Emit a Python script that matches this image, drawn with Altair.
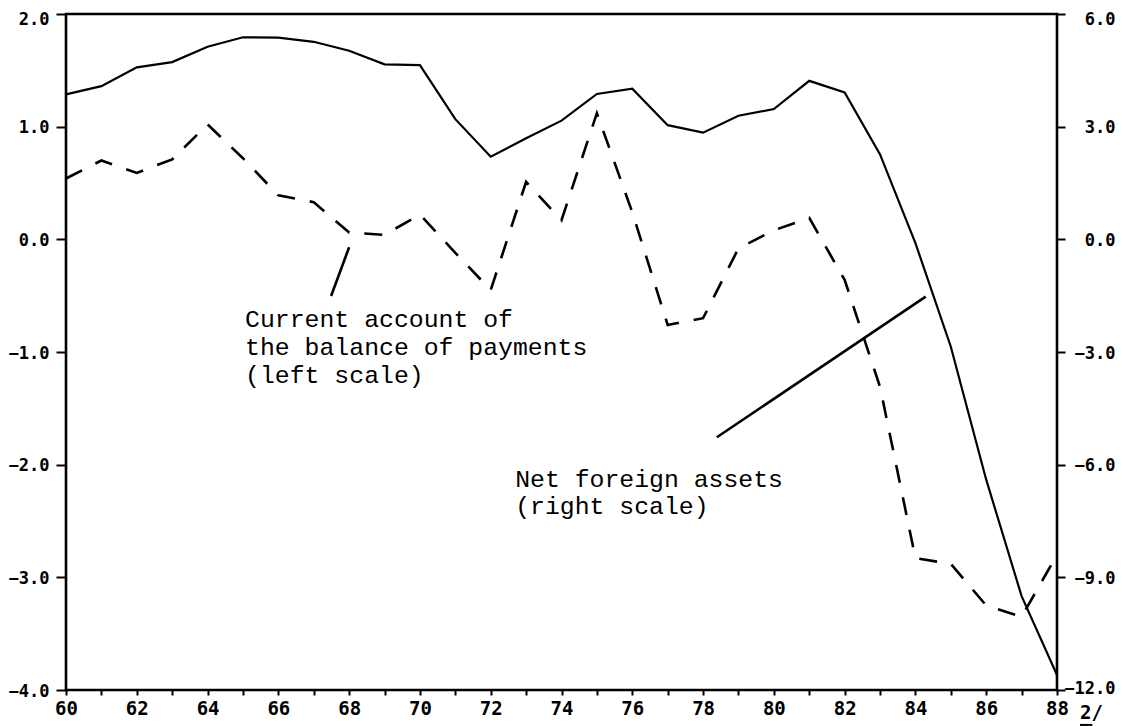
import altair as alt
import pandas as pd

# ---- data ----
years = list(range(60, 89))
current_account = [0.54, 0.70, 0.59, 0.71, 1.02, 0.72, 0.39, 0.33, 0.06, 0.04,
                   0.22, -0.12, -0.45, 0.51, 0.17, 1.12, 0.24, -0.76, -0.70, -0.08,
                   0.08, 0.19, -0.36, -1.31, -2.83, -2.88, -3.25, -3.35, -2.80]
net_foreign_assets = [3.86, 4.08, 4.58, 4.72, 5.13, 5.38, 5.37, 5.26, 5.02, 4.66,
                      4.64, 3.20, 2.20, 2.69, 3.16, 3.87, 4.01, 3.04, 2.84, 3.29,
                      3.47, 4.22, 3.91, 2.26, -0.10, -2.86, -6.40, -9.50, -11.60]
left_ticks = [-4, -3, -2, -1, 0, 1, 2]
right_ticks = [-12, -9, -6, -3, 0, 3, 6]

label_lines = ["Current account of", "the balance of payments", "(left scale)",
               "Net foreign assets", "(right scale)"]
label_x = [65.06, 65.06, 65.06, 72.69, 72.69]
label_y = [-0.78, -1.03, -1.275, -2.20, -2.44]

pointer_x1 = [68.0, 78.39]
pointer_y1 = [-0.07, -1.757]
pointer_x2 = [67.49, 84.29]
pointer_y2 = [-0.503, -0.509]

note_text = ["2/"]
note_x = [88.65]
note_y = [-4.255]
underline_x1 = [88.65]
underline_x2 = [89.0]
underline_y = [-4.31]

# ---- tables ----
series = pd.DataFrame({"year": years, "ca": current_account, "nfa": net_foreign_assets})
labels = pd.DataFrame({"text": label_lines, "x": label_x, "y": label_y})
pointers = pd.DataFrame({"x1": pointer_x1, "y1": pointer_y1, "x2": pointer_x2, "y2": pointer_y2})
notes = pd.DataFrame({"text": note_text, "x": note_x, "y": note_y})
underline = pd.DataFrame({"x1": underline_x1, "x2": underline_x2, "y": underline_y})

xscale = alt.Scale(domain=[60, 88], nice=False, zero=False)
lscale = alt.Scale(domain=[-4, 2], nice=False, zero=False)
rscale = alt.Scale(domain=[-12, 6], nice=False, zero=False)

x_axis = alt.Axis(values=years, labelExpr="datum.value % 2 == 0 ? datum.value : ''",
                  tickSize=5, tickWidth=2, tickColor="black", labelPadding=4,
                  labelFont="DejaVu Sans Mono", labelFontWeight="bold", labelFontSize=19,
                  labelColor="black", domain=False, grid=False, title=None,
                  labelFlush=False, labelOverlap=False)

top_left = "datum.value == %d" % max(left_ticks)
top_right = "datum.value == %d" % max(right_ticks)
bottom_right = "datum.value == %d" % min(right_ticks)

left_axis = alt.Axis(values=left_ticks, format=".1f", orient="left", tickSize=10, tickWidth=2,
                     tickColor="black", labelPadding=7, labelFont="DejaVu Sans Mono",
                     labelFontWeight="bold", labelFontSize=17, labelColor="black",
                     labelBaseline={"condition": {"test": top_left, "value": "top"}, "value": "middle"},
                     labelOffset={"condition": {"test": top_left, "value": -3}, "value": 1},
                     domain=False, grid=False, title=None, labelFlush=False, labelOverlap=False)
right_axis = alt.Axis(values=right_ticks, format=".1f", orient="right", tickSize=8, tickWidth=2,
                      tickColor="black", labelPadding=50, labelAlign="right",
                      labelFont="DejaVu Sans Mono", labelFontWeight="bold", labelFontSize=17,
                      labelBaseline={"condition": {"test": top_right, "value": "top"}, "value": "middle"},
                      labelOffset={"condition": [{"test": top_right, "value": -3},
                                                 {"test": bottom_right, "value": -2}], "value": 1},
                      labelColor="black", domain=False, grid=False, title=None,
                      labelFlush=False, labelOverlap=False)

dashed = alt.Chart(series).mark_line(color="black", strokeWidth=2.6, strokeDash=[18, 15]).encode(
    x=alt.X("year:Q", scale=xscale, axis=x_axis),
    y=alt.Y("ca:Q", scale=lscale, axis=left_axis),
)

text_layer = alt.Chart(labels).mark_text(align="left", baseline="alphabetic", font="Liberation Mono",
                                         fontSize=24.8, color="black").encode(
    x=alt.X("x:Q", scale=xscale, axis=x_axis),
    y=alt.Y("y:Q", scale=lscale, axis=left_axis),
    text="text:N",
)

ptr_layer = alt.Chart(pointers).mark_rule(color="black", strokeWidth=2.6).encode(
    x=alt.X("x1:Q", scale=xscale, axis=x_axis),
    x2="x2:Q",
    y=alt.Y("y1:Q", scale=lscale, axis=left_axis),
    y2="y2:Q",
)

note_layer = alt.Chart(notes).mark_text(align="left", baseline="alphabetic", font="DejaVu Sans Mono",
                                        fontWeight="bold", fontSize=19, color="black").encode(
    x=alt.X("x:Q", scale=xscale, axis=x_axis),
    y=alt.Y("y:Q", scale=lscale, axis=left_axis),
    text="text:N",
)

ul_layer = alt.Chart(underline).mark_rule(color="black", strokeWidth=2).encode(
    x=alt.X("x1:Q", scale=xscale, axis=x_axis),
    x2="x2:Q",
    y=alt.Y("y:Q", scale=lscale, axis=left_axis),
)

left_group = alt.layer(dashed, ptr_layer, text_layer, note_layer, ul_layer)

solid = alt.Chart(series).mark_line(color="black", strokeWidth=2.2).encode(
    x=alt.X("year:Q", scale=xscale, axis=x_axis),
    y=alt.Y("nfa:Q", scale=rscale, axis=right_axis),
)

chart = alt.layer(left_group, solid).resolve_scale(y="independent").properties(
    width=991, height=676,
    autosize=alt.AutoSizeParams(type="none"),
    padding={"left": 58, "top": 6, "right": 74, "bottom": 36},
    background="white",
).configure_view(stroke="black", strokeWidth=2.6)

chart.save("out.html", embed_options={"renderer": "svg", "actions": False})
